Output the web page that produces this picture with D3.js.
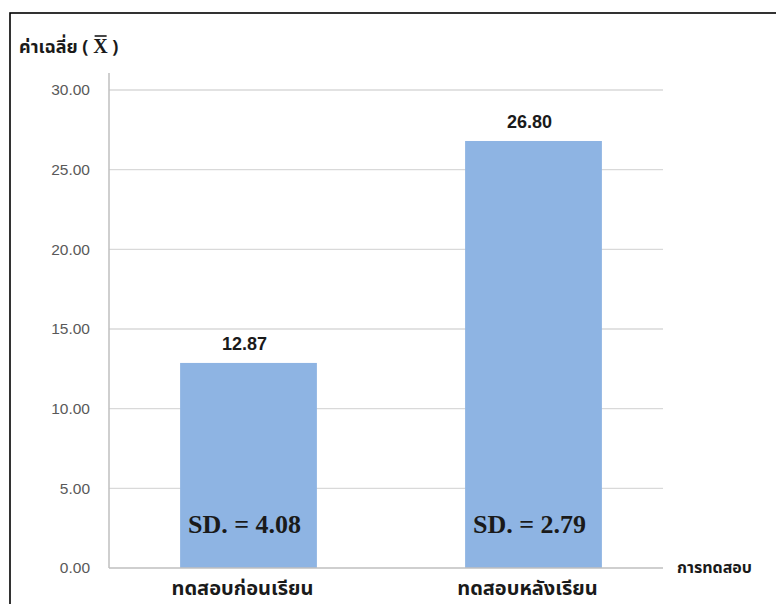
<!DOCTYPE html>
<html><head><meta charset="utf-8">
<script src="https://cdn.jsdelivr.net/npm/d3@7"></script>
<style>body{margin:0;background:#fff;} svg{display:block;}</style>
</head><body>
<svg id="c" width="776" height="604"></svg>
<script>
const categories = ["ทดสอบก่อนเรียน", "ทดสอบหลังเรียน"];
const means = [12.87, 26.80];
const sdLabels = ["SD. = 4.08", "SD. = 2.79"];
const yTicks = [0, 5, 10, 15, 20, 25, 30];
const yTitleParts = ["ค่าเฉลี่ย ( ", "X", " )"];
const xTitle = "การทดสอบ";

const svg = d3.select("#c");
const thai = "'Noto Sans Thai','Noto Sans Thai UI','Noto Sans','DejaVu Sans',sans-serif";

// frame
svg.append("rect").attr("x",10).attr("y",13).attr("width",900).attr("height",800)
  .attr("fill","none").attr("stroke","#000").attr("stroke-width",1.6);

const y = d3.scaleLinear().domain([0,30]).range([568,90]);
const x = d3.scaleBand().domain(categories).range([106,676]).paddingInner(0.52).paddingOuter(0.26);
const gridX0 = 109, gridX1 = 663;

// gridlines
svg.append("g").selectAll("line").data(yTicks.filter(d=>d>0)).join("line")
  .attr("x1",gridX0).attr("x2",gridX1).attr("y1",d=>y(d)).attr("y2",d=>y(d))
  .attr("stroke","#d9d9d9").attr("stroke-width",1.3);

// y axis
const ya = svg.append("g").attr("transform",`translate(${gridX0},0)`)
  .call(d3.axisLeft(y).tickValues(yTicks).tickFormat(d3.format(".2f")).tickSize(0).tickPadding(19));
ya.select(".domain").remove();
ya.selectAll("text").attr("fill","#595959").style("font-family","'Liberation Sans',Arial,sans-serif").style("font-size","15.5px");
svg.append("line").attr("x1",gridX0).attr("x2",gridX0).attr("y1",73).attr("y2",y(0))
  .attr("stroke","#bfbfbf").attr("stroke-width",1.5);

// bars
svg.append("g").selectAll("rect").data(means).join("rect")
  .attr("x",(d,i)=>x(categories[i])).attr("width",x.bandwidth())
  .attr("y",d=>y(d)).attr("height",d=>y(0)-y(d)).attr("fill","#8eb4e3");

// x axis line
svg.append("line").attr("x1",gridX0).attr("x2",gridX1).attr("y1",y(0)).attr("y2",y(0))
  .attr("stroke","#bfbfbf").attr("stroke-width",1.5);

// value labels
svg.append("g").selectAll("text").data(means).join("text")
  .attr("x",(d,i)=>x(categories[i])+x.bandwidth()/2-4).attr("y",d=>y(d)-13)
  .attr("text-anchor","middle").attr("fill","#1a1a1a")
  .style("font-family","'Liberation Sans',Arial,sans-serif").style("font-weight","bold").style("font-size","18px")
  .text(d=>d3.format(".2f")(d));

// SD labels
svg.append("g").selectAll("text").data(sdLabels).join("text")
  .attr("x",(d,i)=>x(categories[i])+x.bandwidth()/2-4).attr("y",533)
  .attr("text-anchor","middle").attr("fill","#1a1a1a")
  .style("font-family","'Liberation Serif','DejaVu Serif',serif").style("font-weight","bold").style("font-size","26px")
  .text(d=>d);

// category labels
svg.append("g").selectAll("text").data(categories).join("text")
  .attr("x",(d,i)=>x(d)+x.bandwidth()/2-6).attr("y",595)
  .attr("text-anchor","middle").attr("fill","#1a1a1a")
  .style("font-family",thai).style("font-weight","bold").style("font-size","20px")
  .text(d=>d);

// y title with x-bar
const yt = svg.append("text").attr("x",19).attr("y",53).attr("fill","#1a1a1a")
  .style("font-family",thai).style("font-weight","bold").style("font-size","18px");
yt.append("tspan").text(yTitleParts[0]);
const xs = yt.append("tspan").style("font-family","'Liberation Serif',serif").style("font-size","20px").text(yTitleParts[1]);
yt.append("tspan").text(yTitleParts[2]);
const bb = xs.node().getBBox();
svg.append("line").attr("x1",bb.x+1.5).attr("x2",bb.x+bb.width-1.5)
  .attr("y1",36).attr("y2",36).attr("stroke","#1a1a1a").attr("stroke-width",1.6);

svg.append("text").attr("x",677).attr("y",573).attr("fill","#1a1a1a")
  .style("font-family",thai).style("font-weight","bold").style("font-size","16px").text(xTitle);
</script>
</body></html>
